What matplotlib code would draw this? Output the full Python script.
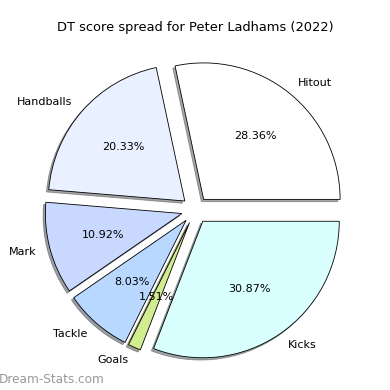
import matplotlib
matplotlib.use("Agg")
import matplotlib.pyplot as plt

categories = ["Hitout", "Handballs", "Mark", "Tackle", "Goals", "Kicks"]
percentages = [28.36, 20.33, 10.92, 8.03, 1.51, 30.87]
colors = ["#ffffff", "#e9f0ff", "#c8d8ff", "#b8d8ff", "#d2ec90", "#d9ffff"]
explode = [0.1] * len(categories)

fig = plt.figure(figsize=(3.9, 3.9), dpi=100)
ax = fig.add_axes([0.0626, 0.024, 0.875, 0.875])
wedges, texts, autotexts = ax.pie(
    percentages, labels=categories, colors=colors, explode=explode,
    shadow={"ox": -0.012, "oy": -0.012}, startangle=0, autopct="%1.2f%%",
    wedgeprops={"edgecolor": "black", "linewidth": 0.6},
    textprops={"fontsize": 8},
)
for t, p in zip(autotexts, percentages):
    t.set_text(f"{p:.2f}%")
ax.set_title("DT score spread for Peter Ladhams (2022)", fontsize=9.4)
fig.text(-0.004, 0.018, "Dream-Stats.com", fontsize=8.7, color="#999999")
fig.savefig("out.png", dpi=100)
